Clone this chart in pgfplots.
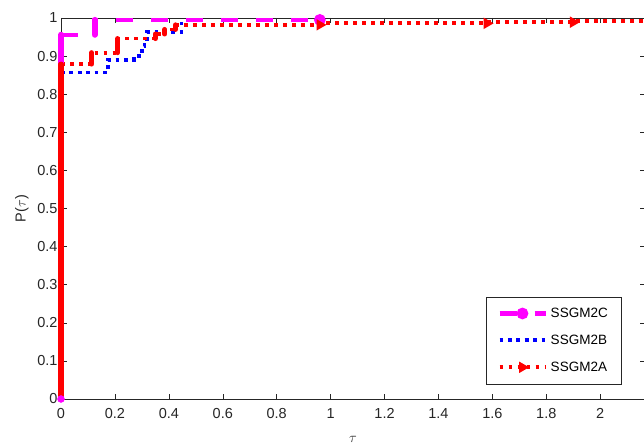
\documentclass[border=0pt]{standalone}
\usepackage{pgfplots}
\pgfplotsset{compat=1.18}
\usepackage{fontspec}
\setmainfont{Liberation Sans}
\definecolor{axgray}{rgb}{0.15,0.15,0.15}
\definecolor{mag}{rgb}{1,0,1}
\begin{document}
\begin{tikzpicture}
\begin{axis}[
  width=584bp, height=381bp, scale only axis,
  xmin=0, xmax=2.166, ymin=0, ymax=1,
  clip=false,
  unbounded coords=jump,
  xtick={0,0.2,...,2}, ytick={0,0.1,...,1},
  tick align=inside, major tick length=5.5bp,
  axis line style={axgray, line width=0.6bp},
  tick style={axgray, line width=0.5bp},
  tick label style={font=\fontsize{14.5bp}{17bp}\selectfont, text=axgray},
  /pgf/number format/assume math mode=true,
  xticklabel style={yshift=-6bp},
  ylabel={P($\tau$)}, xlabel={$\tau$},
  label style={font=\fontsize{14.5bp}{17bp}\selectfont, text=axgray},
  ylabel style={at={(axis description cs:-0.0668,0.5)}, anchor=center},
  xlabel style={at={(axis description cs:0.5,0)}, anchor=north, yshift=-37bp, inner sep=0pt},
  legend style={at={(axis description cs:1,0)}, anchor=south east,
    xshift=-24bp, yshift=15bp, draw=axgray, line width=0.5bp,
    font=\fontsize{13.5bp}{16bp}\selectfont,
    inner xsep=11bp, inner ysep=9bp, row sep=12bp, column sep=1bp},
  legend cell align=left,
  legend image code/.code={\draw[#1, mark indices={2}] plot coordinates {(0bp,0bp) (23bp,0bp) (46bp,0bp)};},
]
% SSGM2C
\addplot[mag, line width=4.5bp, dash pattern=on 17bp off 18bp,
  mark=*, mark size=3.5bp, mark indices={4}, mark options={solid}]
  coordinates {(0,0.956) (0.125,0.956) (0.125,0.995) (0.96,0.995)};
\addlegendentry{SSGM2C}
% SSGM2B
\addplot[blue, line width=3.8bp, dash pattern=on 3.8bp off 4.6bp]
  coordinates {(0,0.857) (0.175,0.857) (0.175,0.89) (0.27,0.89) (0.27,0.90)
    (0.30,0.90) (0.30,0.925) (0.31,0.925) (0.31,0.945) (0.32,0.945)
    (0.32,0.964) (0.447,0.964) (0.447,0.99)};
\addlegendentry{SSGM2B}
% SSGM2A
\addplot[red, line width=3.8bp, dash pattern=on 3.8bp off 5.2bp,
  mark=triangle*, mark size=2.8bp, mark indices={12,14,16},
  mark options={solid, rotate=-90}]
  coordinates {(0,0.879) (0.113,0.879) (0.113,0.909) (0.21,0.909) (0.21,0.946)
    (0.35,0.946) (0.35,0.958) (0.385,0.958) (0.385,0.97) (0.425,0.97)
    (0.425,0.982) (0.96,0.982) (0.96,0.986) (1.58,0.986) (1.58,0.989)
    (1.90,0.989) (1.90,0.992) (2.3,0.992)};
\addlegendentry{SSGM2A}
% solid vertical rises
\addplot[forget plot, only marks, mag, mark=*, mark size=3.5bp]
  coordinates {(0,0)};
\addplot[forget plot, mag, line width=6bp, line cap=round]
  coordinates {(0,0) (0,0.956) (0.125,nan) (0.125,0.956) (0.125,0.995)};
\addplot[forget plot, blue, line width=5bp, line cap=round]
  coordinates {(0,0) (0,0.857)};
\addplot[forget plot, red, line width=5bp, line cap=round]
  coordinates {(0,0) (0,0.879) (0.113,nan) (0.113,0.879) (0.113,0.909)
    (0.21,nan) (0.21,0.909) (0.21,0.946) (0.35,nan) (0.35,0.946) (0.35,0.958)
    (0.385,nan) (0.385,0.958) (0.385,0.97) (0.425,nan) (0.425,0.97) (0.425,0.982)};
\end{axis}
\pgfresetboundingbox
\useasboundingbox (-61bp,-44bp) rectangle (583bp,399bp);
\end{tikzpicture}
\end{document}
